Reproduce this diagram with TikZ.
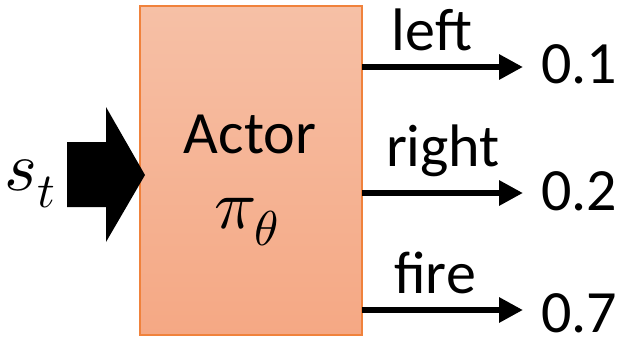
\documentclass[tikz,border=0pt]{standalone}
\usepackage{unicode-math}
\setmainfont{Carlito}
\setmathfont{Latin Modern Math}
\usetikzlibrary{arrows.meta}
\definecolor{boxtop}{RGB}{246,192,166}
\definecolor{boxbot}{RGB}{245,168,132}
\definecolor{boxline}{RGB}{240,130,60}
\tikzset{
  lbl/.style={font=\fontsize{60}{60}\selectfont, inner sep=0pt, anchor=base},
  mth/.style={font=\fontsize{70}{70}\selectfont, inner sep=0pt},
  num/.style={font=\fontsize{60}{60}\selectfont, inner sep=0pt, text depth=0pt, anchor=base west},
  outarrow/.style={line width=6pt, -{Triangle[length=24pt,width=24pt]}},
}
\begin{document}
\begin{tikzpicture}[x=1pt,y=-1pt]
\useasboundingbox (0,0) rectangle (627,338);
% box
\shade[top color=boxtop, bottom color=boxbot] (140,6) rectangle (362,335);
\draw[boxline, line width=1.5pt] (140,6) rectangle (362,335);
\node[draw=none, minimum width=222pt, minimum height=329pt, inner sep=0pt] (box) at (251,170.5) {};
\node[lbl] (actor) at (250,153) {Actor};
\node[mth, anchor=base] (pi) at (247,228) {$\pi_\theta$};
% input arrow
\fill[black] (67,142) -- (106,142) -- (106,107) -- (145,175) -- (106,242) -- (106,207) -- (67,207) -- cycle;
\node[mth, anchor=base west] (s) at (4,190) {$s_t$};
% outputs
\coordinate (t1) at (523,67);
\coordinate (t2) at (523,193);
\coordinate (t3) at (523,310);
\draw[outarrow] (box.east |- t1) -- (t1);
\draw[outarrow] (box.east |- t2) -- (t2);
\draw[outarrow] (box.east |- t3) -- (t3);
\node[lbl] (l1) at (432,50) {left};
\node[lbl] (l2) at (443,166) {right};
\node[lbl] (l3) at (435,293) {fire};
\node[num] (n1) at (541,83) {0.1};
\node[num] (n2) at (541,210) {0.2};
\node[num] (n3) at (541,332) {0.7};
\end{tikzpicture}
\end{document}
